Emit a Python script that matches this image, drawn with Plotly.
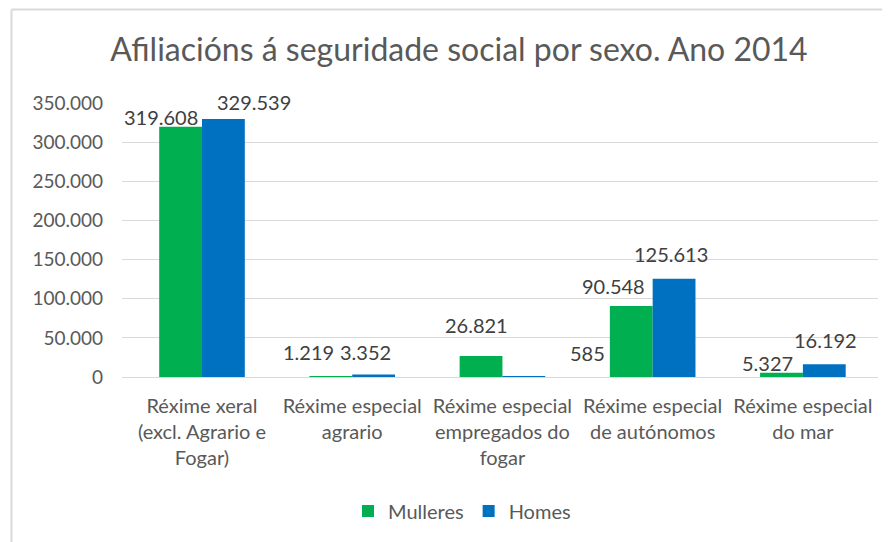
import plotly.graph_objects as go

# --- data ---
categories = [
    "Réxime xeral<br>(excl. Agrario e<br>Fogar)",
    "Réxime especial<br>agrario",
    "Réxime especial<br>empregados do<br>fogar",
    "Réxime especial<br>de autónomos",
    "Réxime especial<br>do mar",
]
mulleres = [319608, 1219, 26821, 90548, 5327]
homes = [329539, 3352, 585, 125613, 16192]
y_ticks = [0, 50000, 100000, 150000, 200000, 250000, 300000, 350000]

# label nudges in px (relative to category centre / bar top), Excel-style placement
nudge_m = [(-41, 10), (-44, 24), (-26, 31), (-39, 20), (-35, 10)]
nudge_h = [(52, 17), (13, 22), (85, 24), (18, 25), (23, 24)]

GREEN = "#00B050"
BLUE = "#0070C0"
FONT = "Lato"
OFF = 8  # page body margin pushes the figure 8px right/down


def fmt(v):
    return f"{v:,}".replace(",", ".")


fig = go.Figure()
fig.add_trace(go.Bar(x=categories, y=mulleres, name="Mulleres",
                     marker=dict(color=GREEN, line=dict(width=0))))
fig.add_trace(go.Bar(x=categories, y=homes, name="Homes",
                     marker=dict(color=BLUE, line=dict(width=0))))

for vals, nudges in ((mulleres, nudge_m), (homes, nudge_h)):
    for cat, v, (dx, dy) in zip(categories, vals, nudges):
        fig.add_annotation(x=cat, y=v, text=fmt(v), showarrow=False,
                           xshift=dx, yshift=dy, yanchor="middle",
                           font=dict(family=FONT, size=20, color="#404040"))

# chart-area border (only top/left visible in the crop)
bx = (11.5 - 122) / 756
by = (377 - 9.5) / 274
fig.add_shape(type="line", xref="paper", yref="paper", x0=bx, x1=1.2, y0=by, y1=by,
              line=dict(color="#d9d9d9", width=2))
fig.add_shape(type="line", xref="paper", yref="paper", x0=bx, x1=bx, y0=by, y1=-1.0,
              line=dict(color="#d9d9d9", width=2))

fig.update_layout(
    width=890, height=542,
    separators=",.",
    barmode="group", bargap=0.43, bargroupgap=0,
    paper_bgcolor="white", plot_bgcolor="white",
    margin=dict(l=122 - OFF, r=890 - (122 - OFF) - 756, t=103 - OFF, b=542 - (103 - OFF) - 274),
    font=dict(family=FONT, color="#595959"),
    title=dict(text="Afiliacións á seguridade social por sexo. Ano 2014",
               x=(459 - OFF) / 890, xanchor="center", y=1 - (50 - OFF) / 542, yanchor="middle",
               font=dict(family=FONT, size=32, color="#595959")),
    xaxis=dict(showgrid=False, showline=True, linecolor="#d9d9d9", linewidth=1,
               ticks="", tickangle=0, ticklabelstandoff=11,
               tickfont=dict(size=20, color="#595959")),
    yaxis=dict(range=[0, 350000], tickvals=y_ticks, tickformat=",d",
               showgrid=True, gridcolor="#d9d9d9", gridwidth=1, zeroline=False,
               showline=False, ticks="", ticklabelstandoff=18,
               tickfont=dict(size=19, color="#595959")),
    legend=dict(orientation="h", x=(462 - 122) / 756, xanchor="center",
                y=(377 - 511) / 274, yanchor="middle",
                font=dict(family=FONT, size=20, color="#595959"),
                itemwidth=30, traceorder="normal"),
    showlegend=True,
)

fig.write_html("out.html")
